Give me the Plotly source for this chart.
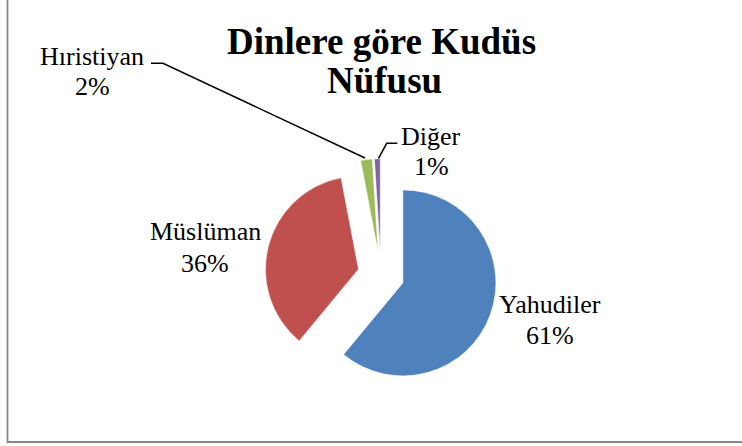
import plotly.graph_objects as go

# ---- data ----
labels = ["Yahudiler", "Müslüman", "Hıristiyan", "Diğer"]
values = [61, 36, 2, 1]
colors = ["#4F81BD", "#C0504D", "#9BBB59", "#8064A2"]
title_lines = ["Dinlere göre Kudüs", "Nüfusu"]

W, H = 742, 446

def px(x):
    return x / W

def py(y):
    return 1 - y / H

# label placement (pixel centers: x, y of name line, y of percent line)
label_pos = {
    "Yahudiler": (550, 304.5, 335.5),
    "Müslüman": (205, 231.5, 263.5),
    "Hıristiyan": (92, 56.5, 86.5),
    "Diğer": (431, 136.5, 166.5),
}

total = sum(values)

fig = go.Figure()
fig.add_trace(go.Pie(
    labels=labels,
    values=values,
    sort=False,
    direction="clockwise",
    rotation=0,
    pull=[0.25] * len(values),
    marker=dict(colors=colors, line=dict(color="white", width=0.5)),
    textinfo="none",
    hoverinfo="label+percent",
    showlegend=False,
    domain=dict(x=[264.75 / W, 497.25 / W], y=[1 - 391.25 / H, 1 - 158.75 / H]),
))

annotations = []
for lab, val in zip(labels, values):
    cx, y1, y2 = label_pos[lab]
    pct = f"{round(100 * val / total)}%"
    annotations.append(dict(x=px(cx), y=py(y1), xref="paper", yref="paper", text=lab,
                            showarrow=False, xanchor="center", yanchor="middle",
                            font=dict(family="Liberation Serif", size=26, color="black")))
    annotations.append(dict(x=px(cx), y=py(y2), xref="paper", yref="paper", text=pct,
                            showarrow=False, xanchor="center", yanchor="middle",
                            font=dict(family="Liberation Serif", size=26, color="black")))

for t, (cx, cy) in zip(title_lines, [(381, 41), (384, 81)]):
    annotations.append(dict(x=px(cx), y=py(cy), xref="paper", yref="paper", text=f"<b>{t}</b>",
                            showarrow=False, xanchor="center", yanchor="middle",
                            font=dict(family="Liberation Serif", size=37, color="black")))

def path(points):
    d = "M " + " L ".join(f"{px(x)},{py(y)}" for x, y in points)
    return d

shapes = [
    # leader lines
    dict(type="path", xref="paper", yref="paper",
         path=path([(151, 63.3), (163, 63.3), (365, 158)]),
         line=dict(color="#000000", width=1.5)),
    dict(type="path", xref="paper", yref="paper",
         path=path([(378.5, 158.3), (386.7, 143.3), (397.3, 143.3)]),
         line=dict(color="#000000", width=1.5)),
    # chart border
    dict(type="rect", xref="paper", yref="paper",
         x0=px(7.5), x1=px(760), y0=py(442), y1=py(-20),
         line=dict(color="#878787", width=1.8), fillcolor="rgba(0,0,0,0)"),
]

fig.update_layout(
    width=W, height=H,
    margin=dict(l=0, r=0, t=0, b=0),
    font=dict(family="Liberation Serif"),
    paper_bgcolor="white",
    plot_bgcolor="white",
    annotations=annotations,
    shapes=shapes,
)

fig.write_html("out.html")
